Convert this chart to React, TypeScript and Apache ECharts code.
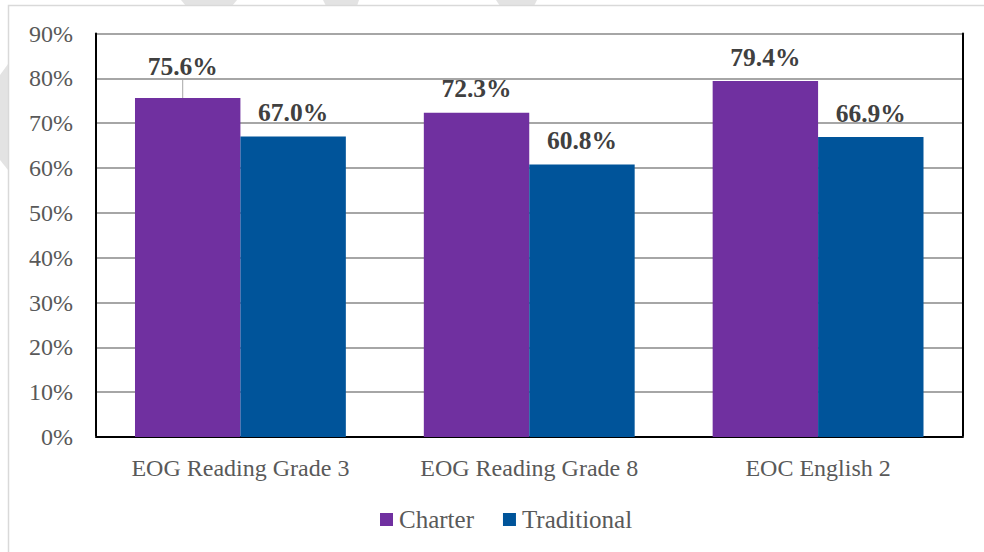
import React, { useEffect, useRef } from "react";
import * as echarts from "echarts";

const categories = ["EOG Reading Grade 3", "EOG Reading Grade 8", "EOC English 2"];
const charterValues = [75.6, 72.3, 79.4];
const traditionalValues = [67.0, 60.8, 66.9];
const seriesNames = ["Charter", "Traditional"];
const yTicks = { min: 0, max: 90, interval: 10 };

const FONT = "'Liberation Serif', 'DejaVu Serif', serif";

export default function App() {
  const ref = useRef<HTMLDivElement>(null);
  useEffect(() => {
    if (!ref.current) return;
    const chart = echarts.init(ref.current, null, { renderer: "svg" });
    const labelCfg = {
      show: true,
      position: "top",
      distance: 11,
      fontFamily: FONT,
      fontSize: 25.5,
      fontWeight: "bold",
      color: "#404040",
      formatter: (p: any) => p.value.toFixed(1) + "%",
    };
    const charterData = charterValues.map((v, i) =>
      i === 0
        ? { value: v, labelLine: { show: true, lineStyle: { color: "#a6a6a6", width: 1 } } }
        : { value: v, labelLine: { show: false } }
    );
    chart.setOption({
      animation: false,
      backgroundColor: "#ffffff",
      graphic: [
        { type: "polygon", z: -10, shape: { points: [[181, 0], [237, 0], [232, 6], [186, 6]] }, style: { fill: "#e3e3e3" } },
        { type: "polygon", z: -10, shape: { points: [[323, 0], [359, 0], [357, 6], [326, 6]] }, style: { fill: "#e3e3e3" } },
        { type: "polygon", z: -10, shape: { points: [[496, 0], [537, 0], [534, 6], [500, 6]] }, style: { fill: "#e3e3e3" } },
        { type: "polygon", z: -10, shape: { points: [[0, 75], [8, 64], [8, 170], [0, 160]] }, style: { fill: "#e3e3e3" } },
        { type: "rect", z: -5, shape: { x: 8.5, y: 5.5, width: 1100, height: 700 }, style: { fill: "#ffffff", stroke: "#d9d9d9", lineWidth: 1.5 } },
      ],
      grid: { left: 96, right: 21.5, top: 33.5, bottom: 115, containLabel: false },
      legend: {
        data: seriesNames,
        left: 375,
        top: 502,
        icon: "rect",
        itemWidth: 13,
        itemHeight: 13,
        itemGap: 29,
        textStyle: { fontFamily: FONT, fontSize: 25, color: "#595959", padding: [0, 0, 0, 1] },
      },
      xAxis: [
        {
          type: "category",
          data: categories,
          axisLine: { show: true, lineStyle: { color: "#d9d9d9", width: 2 } },
          axisTick: { show: false },
          axisLabel: { fontFamily: FONT, fontSize: 24, color: "#595959", margin: 19 },
          splitLine: { show: false },
        },
        {
          type: "category",
          data: categories,
          position: "top",
          axisLine: { show: true, lineStyle: { color: "#000000", width: 2 } },
          axisTick: { show: false },
          axisLabel: { show: false },
          splitLine: { show: false },
        },
      ],
      yAxis: [
        {
          type: "value",
          min: yTicks.min,
          max: yTicks.max,
          interval: yTicks.interval,
          axisLine: { show: true, lineStyle: { color: "#000000", width: 2 } },
          axisTick: { show: false },
          axisLabel: { fontFamily: FONT, fontSize: 24, color: "#595959", margin: 23, formatter: "{value}%" },
          splitLine: { show: true, lineStyle: { color: "#a6a6a6", width: 2 } },
        },
        {
          type: "value",
          position: "right",
          min: yTicks.min,
          max: yTicks.max,
          interval: yTicks.interval,
          axisLine: { show: true, lineStyle: { color: "#000000", width: 2 } },
          axisTick: { show: false },
          axisLabel: { show: false },
          splitLine: { show: false },
        },
      ],
      series: [
        {
          name: seriesNames[0],
          type: "bar",
          data: charterData,
          barGap: "0%",
          barCategoryGap: "27%",
          itemStyle: { color: "#7030a0" },
          label: labelCfg,
          labelLayout: (p: any) => (p.dataIndex === 0 ? { dx: -5, dy: -8 } : {}),
        },
        {
          name: seriesNames[1],
          type: "bar",
          data: traditionalValues,
          barGap: "0%",
          barCategoryGap: "27%",
          itemStyle: { color: "#00549a" },
          label: labelCfg,
        },
      ],
    });
    return () => chart.dispose();
  }, []);
  return (
    <div
      ref={ref}
      style={{ position: "absolute", left: 0, top: 0, width: 984, height: 552 }}
    />
  );
}
